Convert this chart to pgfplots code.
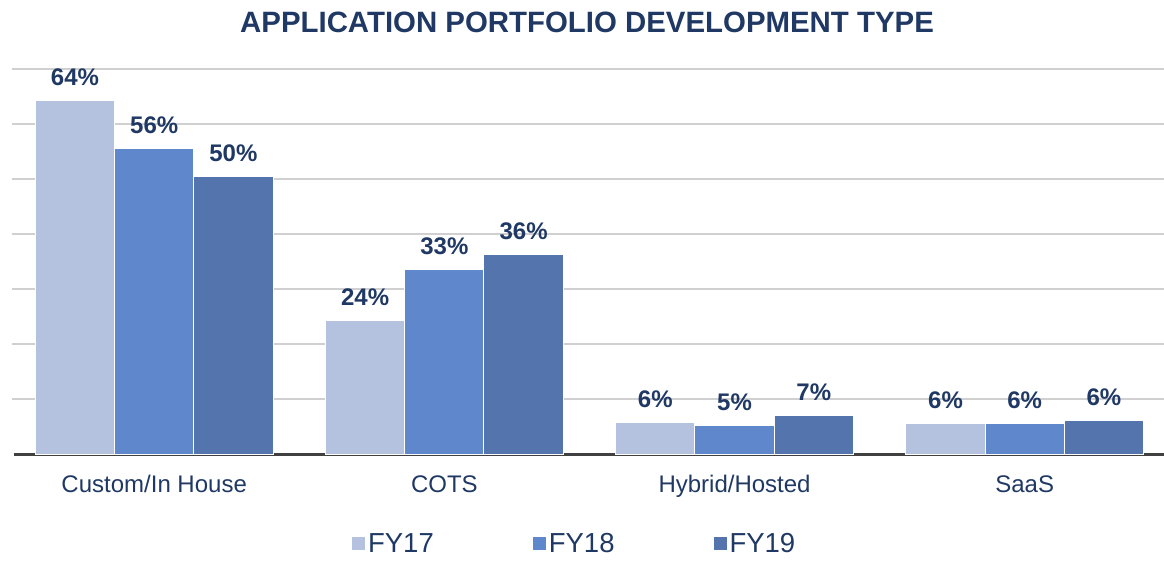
\documentclass[border=0pt]{standalone}
\usepackage{pgfplots}
\pgfplotsset{compat=1.18}
\usepackage{pgfplotstable}
\usepackage{fontspec}
\setmainfont{Liberation Sans}
\definecolor{cA}{HTML}{B4C2E0}
\definecolor{cB}{HTML}{5F87CC}
\definecolor{cC}{HTML}{5374AD}
\definecolor{navy}{HTML}{1F3864}
\definecolor{gridc}{HTML}{D0D0D0}
\definecolor{axc}{HTML}{404040}

\pgfplotstableread{
x y lab
0 64.2 64
1 24.2 24
2 5.76 6
3 5.58 6
}\fya
\pgfplotstableread{
x y lab
0 55.5 56
1 33.5 33
2 5.1 5
3 5.58 6
}\fyb
\pgfplotstableread{
x y lab
0 50.4 50
1 36.2 36
2 6.96 7
3 6.18 6
}\fyc

\begin{document}
\begin{tikzpicture}
\useasboundingbox (0,0) rectangle (1164pt,560pt);
\node[font=\bfseries\fontsize{29.4}{31}\selectfont, text=navy] at (587pt,538pt) {APPLICATION PORTFOLIO DEVELOPMENT TYPE};
\begin{axis}[
  at={(12pt,106pt)}, anchor=south west,
  scale only axis, width=1152pt, height=385pt,
  xmin=-0.49, xmax=3.48, ymin=0, ymax=70,
  ybar=0pt, bar width=0.273,
  clip=false,
  separate axis lines,
  axis x line*=bottom, axis y line*=left,
  y axis line style={draw=none},
  x axis line style={axc, line width=3pt, -, shorten <=2pt},
  ytick={10,20,...,70}, yticklabels={},
  ymajorgrids, grid style={gridc, line width=1.2pt},
  major tick length=0pt,
  xtick={0,1,2,3},
  xticklabels={Custom/In House, COTS, Hybrid/Hosted, SaaS},
  xticklabel style={font=\fontsize{24}{26}\selectfont, text=navy, anchor=base, yshift=-38pt},
  point meta=explicit symbolic,
  nodes near coords={\pgfplotspointmeta\%},
  nodes near coords style={font=\bfseries\fontsize{24}{25}\selectfont, text=navy, anchor=base, yshift=15pt},
  legend style={at={(0.488,-0.233)}, anchor=center, draw=none, fill=none,
    legend columns=3, font=\fontsize{27.5}{29}\selectfont, text=navy,
    /tikz/every even column/.append style={column sep=96pt}},
  legend image code/.code={\fill[#1] (0pt,-7pt) rectangle (14pt,7pt);},
]
\addplot[fill=cA, draw=white, line width=1pt] table[x=x, y=y, meta=lab] {\fya};
\addplot[fill=cB, draw=white, line width=1pt] table[x=x, y=y, meta=lab] {\fyb};
\addplot[fill=cC, draw=white, line width=1pt] table[x=x, y=y, meta=lab] {\fyc};
\legend{FY17, FY18, FY19}
\end{axis}
\end{tikzpicture}
\end{document}
